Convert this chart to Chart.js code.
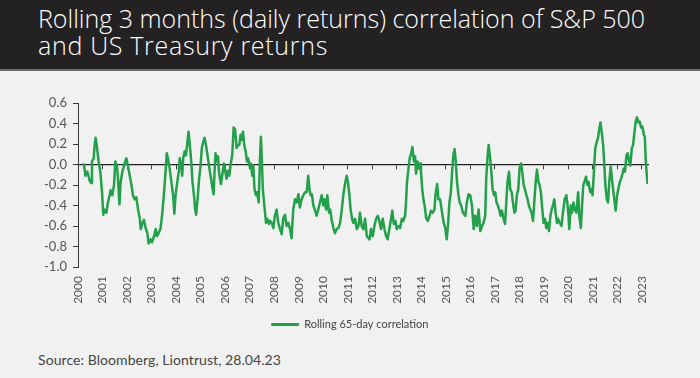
<!DOCTYPE html>
<html>
<head>
<meta charset="utf-8">
<script src="https://cdn.jsdelivr.net/npm/chart.js@4"></script>
<style>
html,body{margin:0;padding:0;background:#f1f1f1;}
#wrap{position:relative;width:700px;height:378px;overflow:hidden;background:#f1f1f1;}
#band{position:absolute;left:0;top:0;width:700px;height:69px;background:#242122;border-bottom:2px solid #6a6a6a;}
#title{position:absolute;left:38px;top:4.7px;font-family:'Open Sans';font-weight:300;font-size:25px;line-height:27.7px;color:#fff;white-space:nowrap;}
#source{position:absolute;left:38px;top:350.5px;font-family:Lato;font-size:14px;line-height:17px;color:#444;white-space:nowrap;}
canvas{position:absolute;left:0;top:0;}
</style>
</head>
<body>
<div id="wrap">
<div id="band"></div>
<div id="title"><span id="t1">Rolling 3 months (daily returns) correlation of S&amp;P 500</span><br><span id="t2">and US Treasury returns</span></div>
<div id="source"><span id="src">Source: Bloomberg, Liontrust, 28.04.23</span></div>
<canvas id="c" width="700" height="378"></canvas>
</div>
<script>
// ---- data ----
const seriesLabel = 'Rolling 65-day correlation';
const yearTicks = [2000,2001,2002,2003,2004,2005,2006,2007,2008,2009,2010,2011,2012,2013,2014,2015,2016,2017,2018,2019,2020,2021,2022,2023];
const yTicks = [0.6,0.4,0.2,0,-0.2,-0.4,-0.6,-0.8,-1.0];

const dates = [
2000.24,2000.30,2000.38,2000.48,2000.54,2000.57,2000.64,2000.68,2000.72,2000.78,2000.84,2000.91,2000.98,
2001.03,2001.09,2001.16,2001.22,2001.29,2001.33,2001.40,2001.47,2001.52,2001.59,2001.63,2001.69,2001.74,2001.81,2001.90,2001.97,
2002.04,2002.11,2002.18,2002.24,2002.31,2002.38,2002.45,2002.52,2002.56,2002.63,2002.69,2002.76,2002.83,2002.88,2002.97,
2003.02,2003.10,2003.17,2003.22,2003.29,2003.37,2003.44,2003.50,2003.56,2003.62,2003.67,2003.74,2003.81,2003.88,2003.93,2003.98,
2004.05,2004.11,2004.15,2004.21,2004.25,2004.29,2004.35,2004.40,2004.45,2004.51,2004.56,2004.62,2004.67,2004.73,2004.78,2004.82,2004.89,2004.94,
2005.00,2005.05,2005.11,2005.16,2005.22,2005.27,2005.32,2005.38,2005.43,2005.49,2005.53,2005.57,2005.61,2005.65,2005.71,2005.75,2005.79,2005.83,2005.88,2005.95,
2006.01,2006.06,2006.11,2006.17,2006.22,2006.29,2006.35,2006.41,2006.47,2006.52,2006.58,2006.63,2006.67,2006.73,2006.78,2006.84,2006.89,2006.94,
2007.00,2007.05,2007.11,2007.15,2007.20,2007.26,2007.31,2007.37,2007.42,2007.46,2007.50,2007.54,2007.60,2007.67,2007.72,2007.79,2007.83,2007.90,2007.97,
2008.03,2008.10,2008.17,2008.24,2008.31,2008.37,2008.44,2008.51,2008.58,2008.65,2008.71,2008.78,2008.85,2008.92,2008.99,
2009.05,2009.12,2009.19,2009.26,2009.33,2009.39,2009.44,2009.49,2009.54,2009.60,2009.67,2009.73,2009.80,2009.87,2009.94,
2010.01,2010.05,2010.12,2010.17,2010.24,2010.29,2010.35,2010.42,2010.48,2010.55,2010.62,2010.69,2010.76,2010.82,2010.89,2010.96,
2011.01,2011.07,2011.12,2011.18,2011.23,2011.30,2011.37,2011.44,2011.50,2011.57,2011.64,2011.71,2011.78,2011.89,2011.95,
2012.02,2012.09,2012.16,2012.23,2012.29,2012.36,2012.43,2012.50,2012.57,2012.63,2012.70,2012.77,2012.82,2012.88,2012.95,
2013.00,2013.07,2013.14,2013.21,2013.27,2013.34,2013.38,2013.42,2013.48,2013.53,2013.59,2013.64,2013.70,2013.75,2013.79,2013.85,2013.90,2013.95,2013.99,
2014.04,2014.09,2014.14,2014.20,2014.27,2014.34,2014.40,2014.47,2014.54,2014.58,2014.65,2014.70,2014.77,2014.85,2014.92,2014.99,
2015.04,2015.10,2015.15,2015.21,2015.26,2015.31,2015.36,2015.41,2015.46,2015.52,2015.57,2015.63,2015.70,2015.80,2015.86,2015.93,
2016.00,2016.07,2016.14,2016.20,2016.27,2016.34,2016.41,2016.48,2016.54,2016.61,2016.65,2016.71,2016.75,2016.80,2016.86,2016.91,2016.97,
2017.02,2017.07,2017.13,2017.18,2017.24,2017.29,2017.36,2017.42,2017.47,2017.52,2017.58,2017.63,2017.69,2017.74,2017.80,2017.85,2017.90,2017.96,
2018.01,2018.07,2018.12,2018.18,2018.23,2018.29,2018.34,2018.39,2018.45,2018.50,2018.56,2018.61,2018.67,2018.72,2018.78,2018.83,2018.88,2018.94,2018.99,
2019.05,2019.10,2019.16,2019.21,2019.27,2019.32,2019.37,2019.43,2019.48,2019.54,2019.58,2019.65,2019.72,2019.78,2019.85,2019.92,2019.99,
2020.04,2020.10,2020.15,2020.21,2020.26,2020.33,2020.40,2020.45,2020.51,2020.56,2020.61,2020.67,2020.72,2020.78,2020.83,2020.89,2020.94,2020.99,
2021.05,2021.10,2021.16,2021.21,2021.27,2021.31,2021.36,2021.42,2021.47,2021.51,2021.57,2021.62,2021.68,2021.73,2021.78,2021.84,2021.89,2021.93,2021.99,
2022.04,2022.10,2022.15,2022.21,2022.26,2022.31,2022.37,2022.42,2022.48,2022.53,2022.59,2022.64,2022.70,2022.75,2022.80,2022.86,2022.91,2022.97,
2023.02,2023.08,2023.12,2023.16,2023.19,2023.23
];

const corr = [
0.01,-0.11,-0.07,-0.16,-0.18,0.03,0.06,0.19,0.26,0.16,0.03,-0.07,-0.27,
-0.49,-0.44,-0.47,-0.37,-0.30,-0.25,-0.30,-0.20,0.03,-0.02,-0.14,-0.39,-0.17,-0.07,0.01,0.06,
-0.02,-0.11,-0.20,-0.30,-0.34,-0.32,-0.44,-0.53,-0.63,-0.57,-0.54,-0.62,-0.67,-0.77,-0.73,
-0.76,-0.70,-0.63,-0.70,-0.67,-0.62,-0.47,-0.30,-0.11,0.11,0.06,-0.04,-0.17,-0.30,-0.48,-0.30,
-0.17,-0.07,0.06,-0.01,-0.11,0.06,0.13,0.09,0.19,0.32,0.19,0.03,-0.17,-0.30,-0.44,-0.49,-0.30,-0.14,
-0.01,0.16,0.22,0.26,0.19,0.11,0.03,-0.07,-0.14,-0.24,-0.29,-0.07,0.11,0.03,0.08,-0.07,-0.14,-0.19,-0.11,0.01,
-0.07,-0.14,-0.06,-0.11,-0.01,0.09,0.36,0.34,0.16,0.19,0.19,0.29,0.24,0.32,0.19,0.13,0.03,0.06,
-0.02,0.01,-0.11,-0.01,-0.24,-0.30,-0.27,-0.37,0.03,0.27,0.03,-0.24,-0.40,-0.57,-0.53,-0.58,-0.55,-0.57,-0.62,
-0.50,-0.44,-0.57,-0.63,-0.68,-0.53,-0.49,-0.60,-0.57,-0.63,-0.72,-0.44,-0.34,-0.37,-0.29,
-0.42,-0.34,-0.30,-0.27,-0.27,-0.11,-0.24,-0.30,-0.29,-0.40,-0.45,-0.50,-0.44,-0.37,-0.30,
-0.40,-0.34,-0.44,-0.30,-0.47,-0.44,-0.55,-0.62,-0.67,-0.63,-0.62,-0.57,-0.44,-0.30,-0.19,-0.11,
-0.17,-0.30,-0.44,-0.53,-0.57,-0.53,-0.63,-0.60,-0.47,-0.60,-0.63,-0.53,-0.70,-0.73,-0.63,
-0.70,-0.60,-0.53,-0.50,-0.55,-0.63,-0.53,-0.63,-0.70,-0.73,-0.63,-0.53,-0.45,-0.58,-0.55,
-0.63,-0.60,-0.62,-0.53,-0.55,-0.50,-0.37,-0.17,-0.04,0.06,0.11,0.17,0.03,0.08,-0.09,0.03,-0.04,0.01,-0.07,
-0.24,-0.34,-0.40,-0.52,-0.55,-0.50,-0.45,-0.47,-0.44,-0.30,-0.19,-0.34,-0.34,-0.47,-0.57,-0.63,
-0.73,-0.57,-0.37,-0.27,-0.07,0.09,0.15,0.03,-0.17,-0.30,-0.37,-0.40,-0.47,-0.50,-0.37,-0.29,
-0.30,-0.40,-0.63,-0.50,-0.60,-0.44,-0.65,-0.60,-0.57,-0.50,-0.14,0.09,0.19,0.09,-0.07,-0.24,-0.30,
-0.27,-0.37,-0.40,-0.44,-0.50,-0.45,-0.53,-0.58,-0.37,-0.17,-0.07,-0.24,-0.27,-0.37,-0.47,-0.45,-0.30,-0.24,
-0.04,0.01,-0.07,-0.20,-0.24,-0.30,-0.34,-0.40,-0.44,-0.47,-0.55,-0.37,-0.17,-0.05,-0.17,-0.20,-0.27,-0.44,-0.57,
-0.53,-0.62,-0.57,-0.65,-0.50,-0.44,-0.40,-0.34,-0.47,-0.57,-0.53,-0.57,-0.60,-0.47,-0.34,-0.30,-0.44,
-0.63,-0.40,-0.47,-0.37,-0.44,-0.47,-0.27,-0.50,-0.62,-0.40,-0.20,-0.16,-0.12,-0.20,-0.17,-0.27,-0.24,-0.30,
-0.04,0.16,0.22,0.26,0.36,0.41,0.32,0.19,-0.01,-0.20,-0.34,-0.37,-0.14,-0.02,-0.14,-0.27,-0.37,-0.45,-0.30,
-0.24,-0.17,-0.14,-0.09,-0.04,-0.07,0.09,0.11,0.03,-0.01,0.16,0.19,0.32,0.42,0.46,0.41,0.42,0.36,
0.37,0.29,0.27,0.03,-0.07,-0.19
];

// ---- styling ----
const GREEN = '#22a04a';
const AXIS = '#3a3a3a';
const TEXT = '#555555';

// fit HTML text widths to the reference
function fitWidth(el, target, applyTo) {
  el.style.letterSpacing = '0px';
  const w = el.getBoundingClientRect().width;
  const n = el.textContent.length;
  (applyTo || el).style.letterSpacing = ((target - w) / n) + 'px';
}
fitWidth(document.getElementById('t1'), 645, document.getElementById('title'));
fitWidth(document.getElementById('src'), 243);

Chart.defaults.font.family = 'Lato';

const points = dates.map((d, i) => ({ x: d, y: corr[i] }));
const xMin = yearTicks[0];
const xMax = 2023.25;

new Chart(document.getElementById('c'), {
  type: 'line',
  data: {
    datasets: [{
      label: seriesLabel,
      data: points,
      borderColor: GREEN,
      backgroundColor: GREEN,
      borderWidth: 2.5,
      pointRadius: 0,
      tension: 0,
      fill: false,
      borderJoinStyle: 'round'
    }]
  },
  options: {
    responsive: false,
    animation: false,
    devicePixelRatio: 1,
    layout: { padding: { top: 103, right: 0, bottom: 38, left: 0 } },
    scales: {
      x: {
        type: 'linear', min: xMin, max: xMax, position: 'bottom',
        afterBuildTicks: s => { s.ticks = yearTicks.map(v => ({ value: v })); },
        afterFit: s => { s.height = 42; },
        grid: { display: false, drawTicks: false },
        border: { display: false },
        ticks: {
          autoSkip: false, minRotation: 90, maxRotation: 90, padding: 9,
          color: TEXT, font: { family: 'Lato', size: 12 },
          callback: v => String(v)
        }
      },
      x2: {
        type: 'linear', min: xMin, max: xMax, position: { y: 0 },
        afterBuildTicks: s => { s.ticks = yearTicks.map(v => ({ value: v })); },
        grid: { drawOnChartArea: false, drawTicks: true, tickLength: 4, color: AXIS, lineWidth: 1 },
        border: { display: true, color: '#222', width: 1.3 },
        ticks: { display: false }
      },
      y: {
        type: 'linear', min: -1, max: 0.6,
        afterBuildTicks: s => { s.ticks = yTicks.map(v => ({ value: v })); },
        afterFit: s => { s.width = 78; },
        grid: { drawOnChartArea: false, drawTicks: true, tickLength: 5, color: AXIS, lineWidth: 1 },
        border: { display: true, color: AXIS, width: 1 },
        ticks: {
          padding: 6, color: TEXT, font: { family: 'Lato', size: 13 },
          callback: v => (Math.abs(v) < 1e-9 ? 0 : v).toFixed(1)
        }
      },
      yRightSpace: {
        type: 'linear', position: 'right', min: -1, max: 0.6,
        afterFit: s => { s.width = 52; },
        grid: { display: false, drawTicks: false },
        border: { display: false },
        ticks: { display: false }
      }
    },
    plugins: {
      legend: {
        position: 'bottom',
        labels: {
          boxWidth: 27, boxHeight: 2, padding: 10,
          color: '#444', font: { family: 'Lato', size: 11 },
          generateLabels: chart => Chart.defaults.plugins.legend.labels.generateLabels(chart)
            .map(l => Object.assign(l, { lineWidth: 1 }))
        }
      },
      tooltip: { enabled: false }
    }
  }
});
</script>
</body>
</html>
